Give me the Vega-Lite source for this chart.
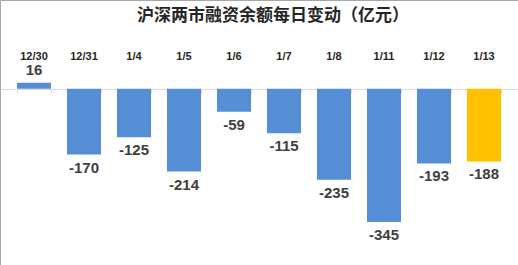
{
  "$schema": "https://vega.github.io/schema/vega-lite/v6.json",
  "width": 518,
  "height": 265,
  "autosize": {"type": "fit", "contains": "padding"},
  "padding": 0,
  "background": "white",
  "config": {"view": {"stroke": "#a6a6a6", "strokeWidth": 1}},
  "title": {
    "text": "沪深两市融资余额每日变动（亿元）",
    "font": "Noto Sans CJK SC",
    "fontSize": 17,
    "fontWeight": "bold",
    "color": "#262626",
    "anchor": "middle",
    "offset": -25,
    "dx": 14
  },
  "data": {
    "values": [
      {"date": "12/30", "v": 16},
      {"date": "12/31", "v": -170},
      {"date": "1/4", "v": -125},
      {"date": "1/5", "v": -214},
      {"date": "1/6", "v": -59},
      {"date": "1/7", "v": -115},
      {"date": "1/8", "v": -235},
      {"date": "1/11", "v": -345},
      {"date": "1/12", "v": -193},
      {"date": "1/13", "v": -188}
    ]
  },
  "resolve": {"axis": {"x": "independent"}},
  "layer": [
    {
      "mark": {"type": "bar"},
      "encoding": {
        "x": {
          "field": "date", "type": "nominal", "sort": null,
          "scale": {"paddingInner": 0.32, "paddingOuter": 0.34},
          "axis": {
            "orient": "top", "title": null, "domain": false, "ticks": false,
            "labelAngle": 0, "labelPadding": 0, "offset": -61,
            "labelFont": "Liberation Sans", "labelFontSize": 11, "labelFontWeight": "bold",
            "labelColor": "#262626"
          }
        },
        "y": {
          "field": "v", "type": "quantitative",
          "scale": {"domain": [-456, 230], "nice": false, "zero": false},
          "axis": null
        },
        "color": {
          "condition": {"test": "datum.date === '1/13'", "value": "#FFC000"},
          "value": "#558ED5"
        }
      }
    },
    {
      "transform": [{"filter": "datum.v < 0"}],
      "mark": {"type": "text", "baseline": "top", "dy": 6, "font": "Liberation Sans", "fontSize": 15, "fontWeight": "bold", "color": "#404040"},
      "encoding": {
        "x": {
          "field": "date", "type": "nominal", "sort": null,
          "axis": {
            "orient": "bottom", "title": null, "labels": false, "offset": -176,
            "domainColor": "#d9d9d9", "tickColor": "#d9d9d9", "tickSize": 4, "tickBand": "extent"
          }
        },
        "y": {"field": "v", "type": "quantitative"},
        "text": {"field": "v", "type": "nominal"}
      }
    },
    {
      "transform": [{"filter": "datum.v >= 0"}],
      "mark": {"type": "text", "baseline": "alphabetic", "dy": -8, "font": "Liberation Sans", "fontSize": 15, "fontWeight": "bold", "color": "#404040"},
      "encoding": {
        "x": {"field": "date", "type": "nominal", "sort": null, "axis": null},
        "y": {"field": "v", "type": "quantitative"},
        "text": {"field": "v", "type": "nominal"}
      }
    }
  ]
}
